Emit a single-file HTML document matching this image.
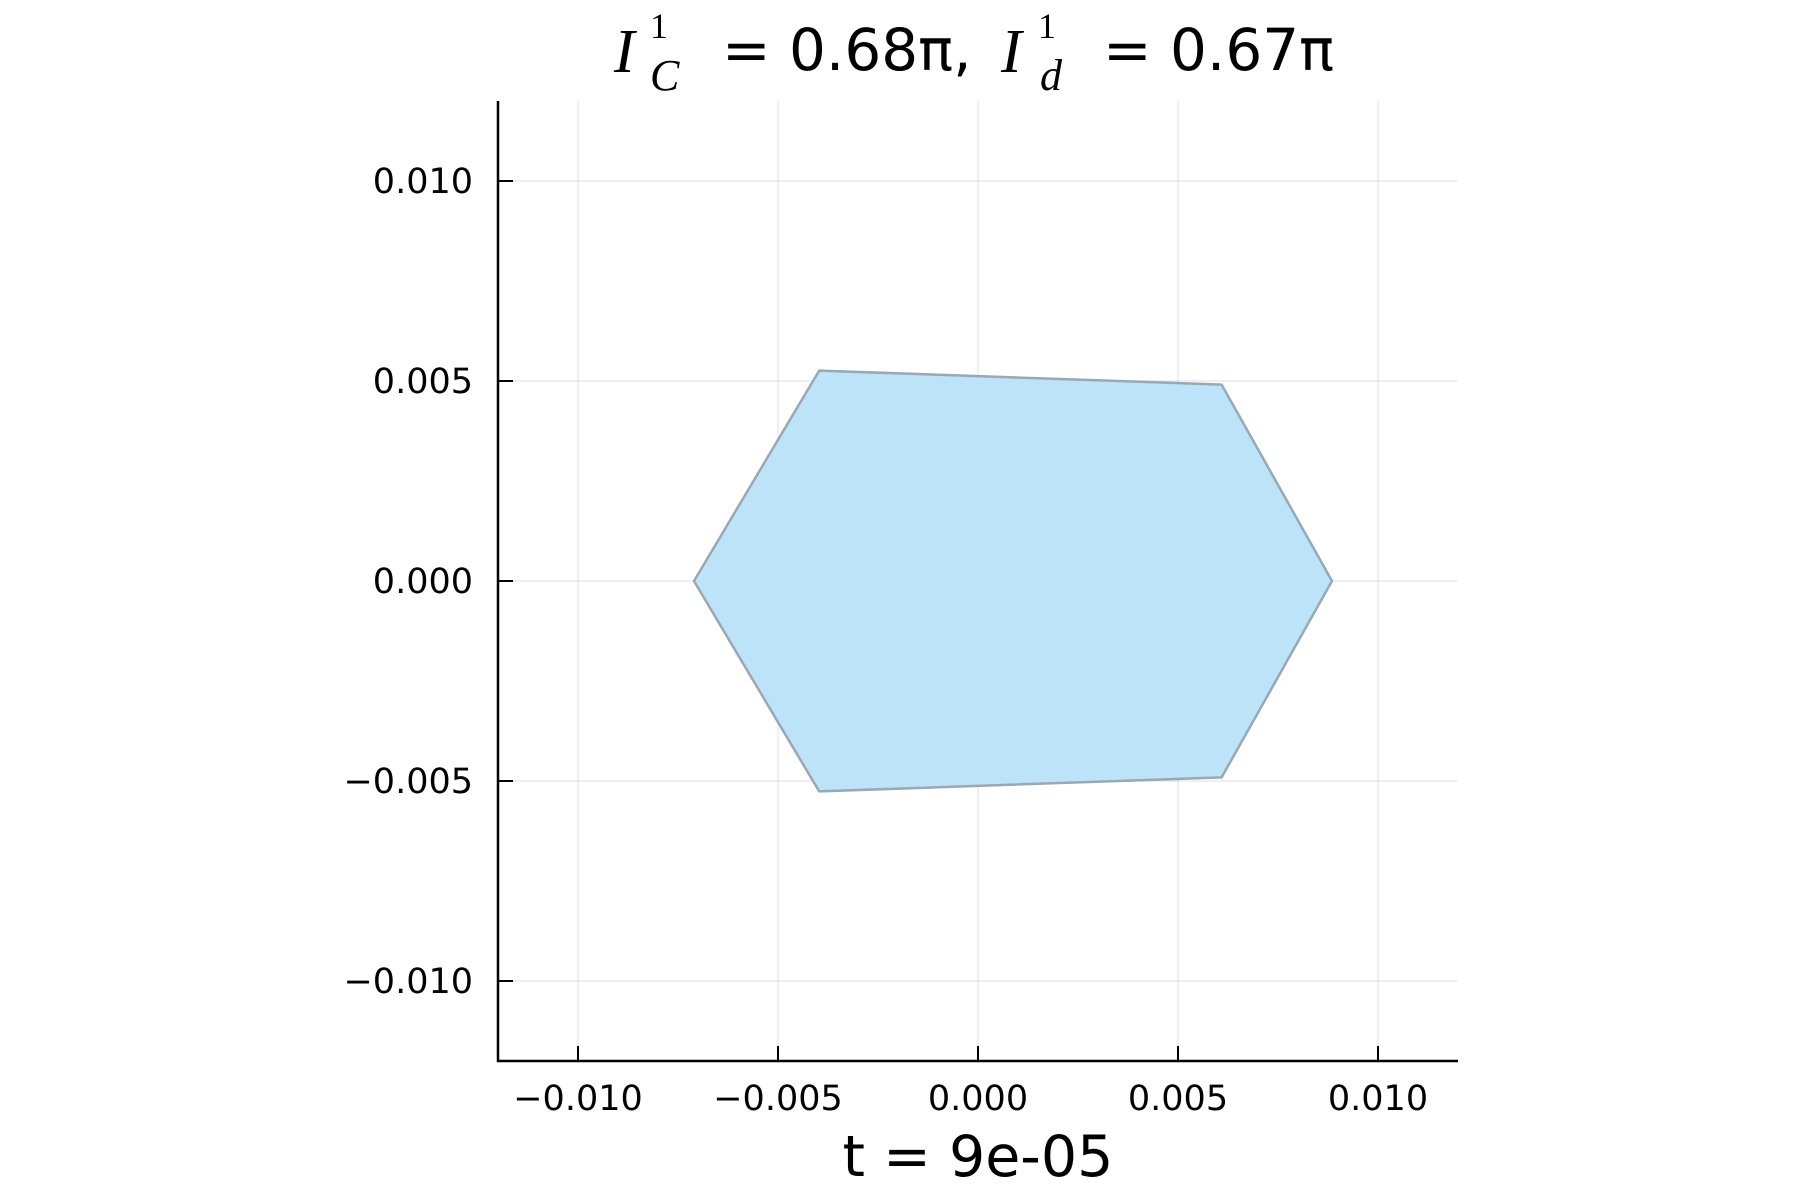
<!DOCTYPE html>
<html><head><meta charset="utf-8"><style>
body{margin:0;background:#fff}
svg{display:block;font-family:"DejaVu Sans","Liberation Sans",sans-serif}
.m{font-family:"Liberation Serif",serif}
</style></head><body>
<svg id="chart" width="1800" height="1200" viewBox="0 0 1800 1200">
<g>
<text class="m" x="614" y="72" font-size="62" font-style="italic">I</text>
<text class="m" x="650" y="38" font-size="36">1</text>
<text class="m" x="650" y="90" font-size="44" font-style="italic">C</text>
<text x="722" y="70" font-size="58">= 0.68π,</text>
<text class="m" x="1001" y="72" font-size="62" font-style="italic">I</text>
<text class="m" x="1038" y="38" font-size="36">1</text>
<text class="m" x="1040" y="90" font-size="44" font-style="italic">d</text>
<text x="1103" y="70" font-size="58">= 0.67π</text>
</g>
<g id="grid"></g>
<g id="marks"></g>
<g id="axes"></g>
<text x="978" y="1176" font-size="57" text-anchor="middle">t = 9e-05</text>
</svg>
<script>
const xTicks=[-0.01,-0.005,0,0.005,0.01];
const yTicks=[-0.01,-0.005,0,0.005,0.01];
const tickLabels=["−0.010","−0.005","0.000","0.005","0.010"];
const polyX=[-0.00397,0.00609,0.00885,0.00609,-0.00397,-0.0071];
const polyY=[0.00526,0.00491,0,-0.00491,-0.00526,0];
const L=498,R=1458,T=101,B=1061,MIN=-0.012,MAX=0.012;
const sx=v=>L+(v-MIN)/(MAX-MIN)*(R-L);
const sy=v=>B-(v-MIN)/(MAX-MIN)*(B-T);
const NS="http://www.w3.org/2000/svg";
function mk(t,a,p){const e=document.createElementNS(NS,t);for(const k in a)e.setAttribute(k,a[k]);p.appendChild(e);return e;}
const grid=document.getElementById('grid'),axes=document.getElementById('axes'),marks=document.getElementById('marks');
xTicks.forEach((v,i)=>{
 const g=mk('line',{x1:sx(v),x2:sx(v),y1:T,y2:B,stroke:'#000','stroke-opacity':0.1,'stroke-width':1.2},grid);
 
 
 const t=mk('line',{x1:sx(v),x2:sx(v),y1:B,y2:B-15,stroke:'#000','stroke-width':2},axes);
 
 
 const l=mk('text',{x:sx(v),y:1110,'font-size':35,'text-anchor':'middle'},axes);
 l.textContent=tickLabels[i];
 
 
});
yTicks.forEach((v,i)=>{
 const g=mk('line',{x1:L,x2:R,y1:sy(v),y2:sy(v),stroke:'#000','stroke-opacity':0.1,'stroke-width':1.2},grid);
 
 
 const t=mk('line',{x1:L,x2:L+15,y1:sy(v),y2:sy(v),stroke:'#000','stroke-width':2},axes);
 
 
 const l=mk('text',{x:473,y:sy(v)+12,'font-size':35,'text-anchor':'end'},axes);
 l.textContent=tickLabels[i];
 
 
});
const pts=polyX.map((x,i)=>sx(x)+','+sy(polyY[i])).join(' ');
const p=mk('polygon',{points:pts,fill:'#bde3f9',stroke:'#98a8b4','stroke-width':2.5,'stroke-linejoin':'round'},marks);


const ax=mk('line',{x1:L,x2:L,y1:T,y2:B+1,stroke:'#000','stroke-width':2.5},axes);


const ay=mk('line',{x1:L-1,x2:R,y1:B,y2:B,stroke:'#000','stroke-width':2.5},axes);


</script>
</body></html>
